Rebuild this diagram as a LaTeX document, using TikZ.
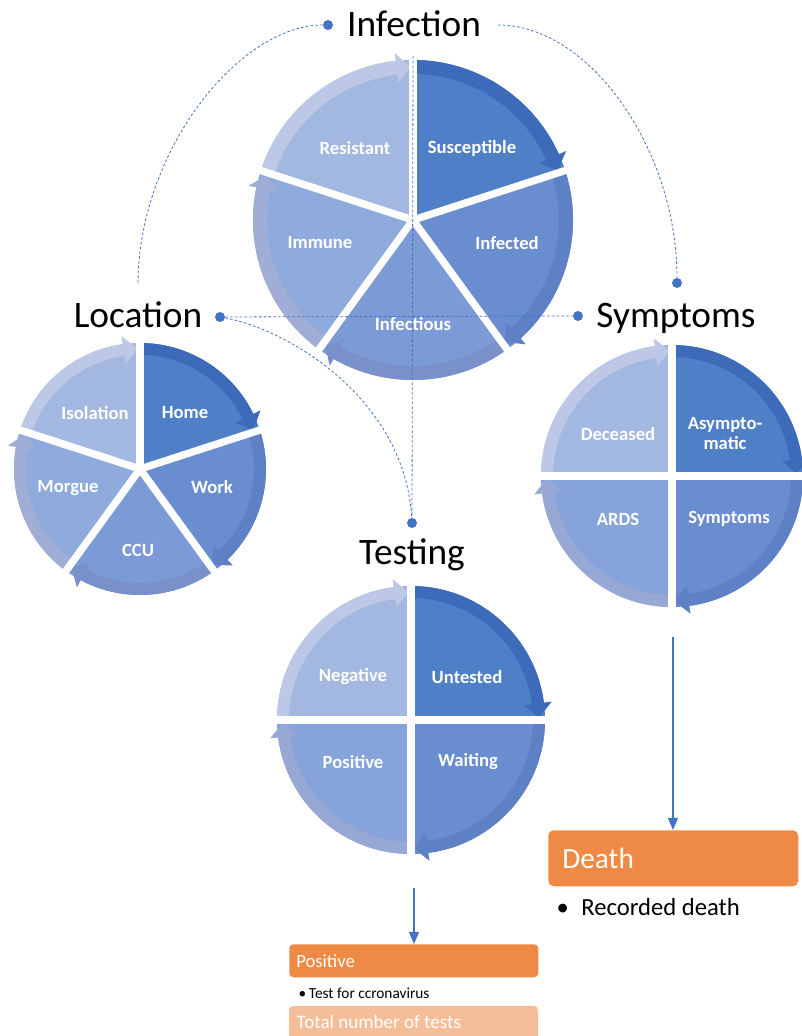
\documentclass[tikz,border=0pt]{standalone}
\usepackage{fontspec}
\setmainfont{Carlito}
\usepackage{tikz}
\usetikzlibrary{arrows.meta}

\definecolor{linkblue}{HTML}{4472C4}
\definecolor{segA}{HTML}{4F7FC7}\definecolor{rimA}{HTML}{3E6ABA}
\definecolor{segB}{HTML}{6A8DD0}\definecolor{rimB}{HTML}{5E80C4}
\definecolor{segC}{HTML}{7C9BD6}\definecolor{rimC}{HTML}{7990CA}
\definecolor{segD}{HTML}{8FABDD}\definecolor{rimD}{HTML}{A0AED6}
\definecolor{segE}{HTML}{A3B8E1}\definecolor{rimE}{HTML}{BCC8E6}
\definecolor{segF}{HTML}{87A4DA}\definecolor{rimF}{HTML}{97A8D4}
\definecolor{boxorange}{HTML}{EE8A45}
\definecolor{boxlight}{HTML}{F5BE98}

\tikzstyle{arrow} = [line width=0.9pt,draw=linkblue,->,>={Triangle[length=9pt,width=7.5pt]}]
\tikzstyle{link} = [draw=linkblue,line width=0.6pt,dash pattern=on 2pt off 1.6pt]
\tikzstyle{dot} = [circle,fill=linkblue,inner sep=0pt,minimum size=7.5pt]
\tikzstyle{title} = [font=\fontsize{28}{32}\selectfont,anchor=base]
\tikzstyle{seglabel} = [text=white,font=\fontsize{14}{15}\selectfont\bfseries]
\tikzstyle{gapline} = [draw=white,line width=5.5pt]

% one segment of a cycle: centre x, centre y, radius, from angle, to angle, fill, rim
\newcommand{\cycseg}[7]{%
  \pgfmathsetmacro{\headbase}{#5+1000/#3}%
  \pgfmathsetmacro{\headtip}{#5+1}%
  \begin{scope}[shift={(#1,#2)}]
    \fill[#6] (0,0) -- (#4:#3) arc[start angle=#4,end angle=#5,radius=#3] -- cycle;
    \fill[#7] (#4:#3) arc[start angle=#4,end angle=\headbase,radius=#3]
      -- (\headbase:#3+8) -- (\headtip:#3-\bw/2) -- (\headbase:#3-\bw-8)
      -- (\headbase:#3-\bw) arc[start angle=\headbase,end angle=#4,radius=#3-\bw] -- cycle;
  \end{scope}}

\begin{document}
\begin{tikzpicture}[x=0.75pt,y=0.75pt]
	\useasboundingbox (0,0) rectangle (802,1036);

	% Infection cycle:
	\def\bw{14}
	\cycseg{413}{816}{160}{90}{18}{segA}{rimA}
	\cycseg{413}{816}{160}{18}{-54}{segB}{rimB}
	\cycseg{413}{816}{160}{-54}{-126}{segC}{rimC}
	\cycseg{413}{816}{160}{234}{162}{segD}{rimD}
	\cycseg{413}{816}{160}{162}{90}{segE}{rimE}
	\foreach \a in {90,18,-54,-126,162}
		\draw[gapline] (413,816) -- ++(\a:180);

	% Location cycle:
	\def\bw{12}
	\cycseg{140}{567}{126}{90}{18}{segA}{rimA}
	\cycseg{140}{567}{126}{18}{-54}{segB}{rimB}
	\cycseg{140}{567}{126}{-54}{-126}{segC}{rimC}
	\cycseg{140}{567}{126}{234}{162}{segD}{rimD}
	\cycseg{140}{567}{126}{162}{90}{segE}{rimE}
	\foreach \a in {90,18,-54,-126,162}
		\draw[gapline] (140,567) -- ++(\a:145);

	% Symptoms cycle:
	\cycseg{672}{560}{131}{90}{0}{segA}{rimA}
	\cycseg{672}{560}{131}{0}{-90}{segB}{rimB}
	\cycseg{672}{560}{131}{270}{180}{segF}{rimF}
	\cycseg{672}{560}{131}{180}{90}{segE}{rimE}
	\foreach \a in {90,0,-90,180}
		\draw[gapline] (672,560) -- ++(\a:150);

	% Testing cycle:
	\cycseg{411}{316}{134}{90}{0}{segA}{rimA}
	\cycseg{411}{316}{134}{0}{-90}{segB}{rimB}
	\cycseg{411}{316}{134}{270}{180}{segF}{rimF}
	\cycseg{411}{316}{134}{180}{90}{segE}{rimE}
	\foreach \a in {90,0,-90,180}
		\draw[gapline] (411,316) -- ++(\a:155);

	% Segment labels:
	\node[seglabel] (resistant)   at (355,888) {Resistant};
	\node[seglabel] (susceptible) at (472,888) {Susceptible};
	\node[seglabel] (immune)      at (320,793) {Immune};
	\node[seglabel] (infected)    at (507,793) {Infected};
	\node[seglabel] (infectious)  at (413,712) {Infectious};
	\node[seglabel] (isolation)   at (95,623)  {Isolation};
	\node[seglabel] (home)        at (185,623) {Home};
	\node[seglabel] (morgue)      at (68,548)  {Morgue};
	\node[seglabel] (work)        at (212,549) {Work};
	\node[seglabel] (ccu)         at (138,486) {CCU};
	\node[seglabel] (deceased)    at (618,602) {Deceased};
	\node[seglabel,align=center] (asympto) at (725,602) {Asympto-\\matic};
	\node[seglabel] (ards)        at (618,517) {ARDS};
	\node[seglabel] (sympt)       at (729,517) {Symptoms};
	\node[seglabel] (negative)    at (353,359) {Negative};
	\node[seglabel] (untested)    at (467,359) {Untested};
	\node[seglabel] (positive)    at (353,274) {Positive};
	\node[seglabel] (waiting)     at (468,274) {Waiting};

	% Titles and their dots:
	\node[title] (infection) at (414,999) {Infection};
	\node[title] (location)  at (138,708) {Location};
	\node[title] (symptoms)  at (676,708) {Symptoms};
	\node[title] (testing)   at (412,471) {Testing};
	\node[dot] (infdot)  at (328,1011) {};
	\node[dot] (locdot)  at (220,719) {};
	\node[dot] (symdot)  at (578,720) {};
	\node[dot] (symtop)  at (677,753) {};
	\node[dot] (testdot) at (412,513) {};
	\coordinate (infright) at (498,1011);
	\coordinate (locup)    at (138,751);
	\coordinate (inftop)   at (413,980);

	% Dashed links:
	\draw[link] (infdot) .. controls (240,1011) and (138,886) .. (locup);
	\draw[link] (infright) .. controls (590,1011) and (677,886) .. (symtop);
	\draw[link] (locdot) -- (symdot);
	\draw[link] (locdot) .. controls (290,706) and (405,636) .. (testdot);
	\draw[link] (inftop) -- (testdot);

	% Result boxes:
	\node[anchor=north west,fill=boxorange,rounded corners=3pt,minimum height=24.75pt,
		inner xsep=5.25pt,text width=176.25pt,align=left,text=white,
		font=\fontsize{14}{16}\selectfont] (posbox) at (289,92) {Positive};
	\node[anchor=west,font=\fontsize{11.5}{13}\selectfont] (testfor) at (294,43) {•\,Test for ccronavirus};
	\fill[boxlight,rounded corners=3pt] (289,-14) rectangle (538,30);
	\node[anchor=west,text=white,font=\fontsize{14.3}{16}\selectfont] (totals) at (292,14) {Total number of tests};

	\node[anchor=north west,fill=boxorange,rounded corners=4pt,minimum height=42pt,
		inner xsep=10.5pt,text width=166.5pt,align=left,text=white,
		font=\fontsize{22}{26}\selectfont] (deathbox) at (548,206) {Death};
	\node[anchor=west,font=\fontsize{18.5}{22}\selectfont] (recorded) at (552,129) {•\enspace Recorded death};

	% Arrows down to the boxes:
	\coordinate (testout) at (414,148);
	\coordinate (symout)  at (673,399);
	\draw[arrow] (testout) -- (testout |- posbox.north);
	\draw[arrow] (symout) -- (symout |- deathbox.north);
\end{tikzpicture}
\end{document}
